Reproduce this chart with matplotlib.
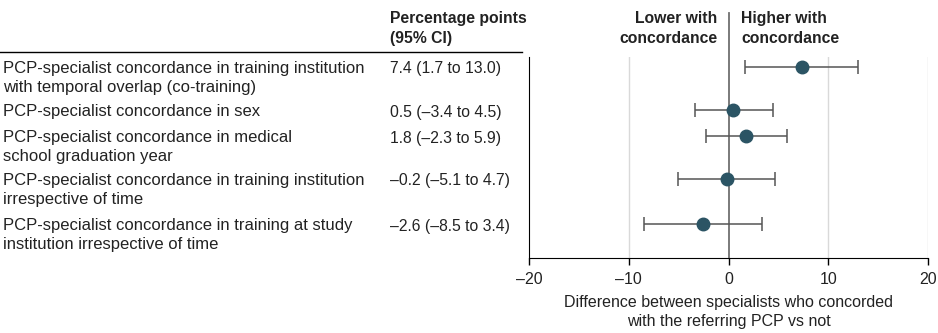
import matplotlib
matplotlib.use("Agg")
import matplotlib.pyplot as plt
from matplotlib import font_manager

labels = [
    "PCP-specialist concordance in training institution\nwith temporal overlap (co-training)",
    "PCP-specialist concordance in sex",
    "PCP-specialist concordance in medical\nschool graduation year",
    "PCP-specialist concordance in training institution\nirrespective of time",
    "PCP-specialist concordance in training at study\ninstitution irrespective of time",
]
estimates = [7.4, 0.5, 1.8, -0.2, -2.6]
ci_low = [1.7, -3.4, -2.3, -5.1, -8.5]
ci_high = [13.0, 4.5, 5.9, 4.7, 3.4]
value_labels = [
    "7.4 (1.7 to 13.0)",
    "0.5 (\u20133.4 to 4.5)",
    "1.8 (\u20132.3 to 5.9)",
    "\u20130.2 (\u20135.1 to 4.7)",
    "\u20132.6 (\u20138.5 to 3.4)",
]
xticks = [-20, -10, 0, 10, 20]
xtick_labels = ["\u201320", "\u201310", "0", "10", "20"]

# layout: row y positions in pixel-like units from axis top
row_y = [10, 53, 79, 122, 167]

names = {f.name for f in font_manager.fontManager.ttflist}
fam = "Liberation Sans Narrow" if "Liberation Sans Narrow" in names else "Liberation Sans"
plt.rcParams['font.family'] = [fam, 'DejaVu Sans']
fs = 11.3
txt = "#222222"

W, H = 938, 333
fig = plt.figure(figsize=(W / 100, H / 100), dpi=100)
ax = fig.add_axes([529 / W, 1 - 258 / H, 399 / W, 201 / H])
ax.set_xlim(-20, 20)
ax.set_ylim(201, 0)

marker_color = "#2b5464"
for i in range(len(estimates)):
    ax.errorbar(estimates[i], row_y[i],
                xerr=[[estimates[i] - ci_low[i]], [ci_high[i] - estimates[i]]],
                fmt='o', color=marker_color, ecolor="#555555", elinewidth=1.1,
                capsize=5, capthick=1.1, markersize=9, zorder=3)

for x in [-10, 10, 20]:
    ax.axvline(x, color="#d9d9d9", lw=1, zorder=0)
# zero line extending into header
ax.plot([0, 0], [201, -44], color="#707070", lw=1.3, clip_on=False, zorder=2)

for s in ["top", "right"]:
    ax.spines[s].set_visible(False)
ax.spines["left"].set_color("black")
ax.spines["bottom"].set_color("black")
ax.set_yticks([])
ax.set_xticks(xticks)
ax.set_xticklabels(xtick_labels, fontsize=11.5)
ax.tick_params(axis='x', length=5, width=1, color="black", pad=5, labelcolor=txt)
ax.set_xlabel("Difference between specialists who concorded\nwith the referring PCP vs not",
              fontsize=11.5, color=txt, labelpad=6, linespacing=1.3)

for i in range(len(labels)):
    ytop = 1 - (57 + row_y[i] - 6) / H
    fig.text(3 / W, ytop, labels[i], fontsize=12, va="top",
             ha="left", color=txt, linespacing=1.35)
    fig.text(390 / W, ytop - 0.5 / H, value_labels[i], fontsize=fs,
             va="top", ha="left", color=txt)

fig.text(390 / W, 1 - 11 / H, "Percentage points\n(95% CI)", fontsize=fs,
         fontweight="bold", va="top", ha="left", color=txt, linespacing=1.45)
fig.text(717 / W, 1 - 11 / H, "Lower with\nconcordance", fontsize=fs,
         fontweight="bold", va="top", ha="right", color=txt, linespacing=1.45)
fig.text(741 / W, 1 - 11 / H, "Higher with\nconcordance", fontsize=fs,
         fontweight="bold", va="top", ha="left", color=txt, linespacing=1.45)
fig.add_artist(plt.Line2D([0, 522 / W], [1 - 52 / H, 1 - 52 / H],
                          transform=fig.transFigure, color="black", lw=1))

fig.savefig("out.png", dpi=100)
